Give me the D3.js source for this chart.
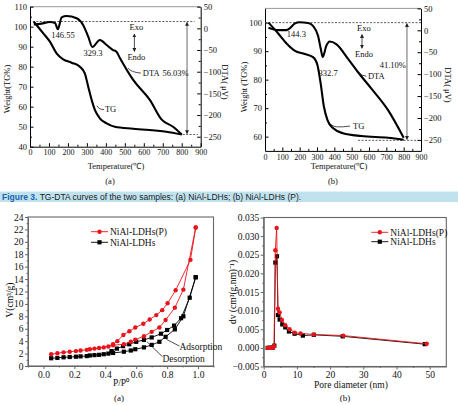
<!DOCTYPE html>
<html>
<head>
<meta charset="utf-8">
<script src="https://cdn.jsdelivr.net/npm/d3@7"></script>
<style>
  body { margin: 0; background: #fff; }
  svg { display: block; }
</style>
</head>
<body>
<svg id="fig"></svg>
<script>
// ---- TG-DTA (a) NiAl-LDHs ----
const tgA_T  = [20, 70, 105, 140, 175, 219, 263, 289, 307, 325, 342, 368, 404, 447, 544, 719, 800];
const tgA_W  = [102.5, 96.7, 92.5, 86.7, 83.7, 82, 80, 76.7, 70, 63.4, 58.4, 54.2, 51.7, 50, 49, 47.5, 46.1];
const dtaA_T = [20, 60, 105, 132, 147, 167, 193, 246, 280, 307, 329, 368, 404, 438, 456, 474, 544, 632, 693, 754, 800];
const dtaA_V = [9, 11, 14.7, 12.4, -2, 25.5, 28.5, 23.2, 7.8, -19.2, -43, -26.8, -38.4, -50, -54, -68.4, -119, -165, -210, -227, -245];

// ---- TG-DTA (b) NiAl-LDHs (P) ----
const tgB_T  = [20, 75, 123, 171, 229, 277, 302, 321, 340, 360, 392, 450, 556, 710, 800];
const tgB_W  = [100, 96.3, 92.8, 90.2, 89, 87.9, 85.2, 78.7, 70.5, 65.9, 63, 61.2, 60.2, 59.6, 58.9];
const dtaB_T = [20, 75, 123, 144, 171, 200, 248, 277, 306, 322, 333, 354, 373, 411, 479, 537, 614, 710, 800];
const dtaB_V = [6, 0.5, 0.5, 5, 15.2, 18.3, 16.8, 10, -12.6, -42.7, -61, -35, -25.5, -31.4, -65, -95.6, -133, -182, -245];

const tempTicks = [0, 100, 200, 300, 400, 500, 600, 700, 800, 900];
const dtaTicks  = [50, 0, -50, -100, -150, -200, -250];

// ---- N2 isotherms ----
const adsP   = [0.05, 0.09, 0.13, 0.17, 0.21, 0.24, 0.28, 0.30, 0.33, 0.36, 0.39, 0.42, 0.45, 0.52, 0.565, 0.594, 0.65, 0.70, 0.75, 0.79, 0.85, 0.905, 0.985];
const adsV_P = [1.9, 2.05, 2.2, 2.3, 2.4, 2.5, 2.6, 2.7, 2.8, 2.9, 3.0, 3.15, 3.35, 3.5, 3.9, 4.25, 4.8, 5.5, 6.2, 7.4, 9.4, 12.3, 22.3];
const adsV   = [1.25, 1.3, 1.4, 1.45, 1.5, 1.55, 1.6, 1.7, 1.75, 1.8, 1.9, 2.0, 2.1, 2.3, 2.5, 2.7, 3.0, 3.4, 3.9, 4.7, 5.9, 8.0, 14.3];
const desP_P = [0.985, 0.951, 0.855, 0.803, 0.768, 0.73, 0.687, 0.646, 0.594, 0.556, 0.517, 0.478, 0.45];
const desV_P = [22.3, 17.1, 12.2, 10.1, 9.0, 8.2, 7.5, 6.8, 6.2, 5.6, 5.0, 4.0, 3.5];
const desP   = [0.985, 0.946, 0.89, 0.845, 0.80, 0.76, 0.70, 0.65, 0.60, 0.555, 0.515, 0.475, 0.44];
const desV   = [14.3, 11.0, 7.7, 6.5, 5.8, 5.2, 4.6, 4.2, 3.9, 3.5, 3.2, 2.8, 2.4];

// ---- pore size distribution ----
const poreD_P  = [1.2, 1.6, 2.0, 2.4, 2.8, 3.1, 3.5, 3.9, 4.3, 4.8, 5.5, 6.5, 7.8, 9.3, 11.1, 15.1, 24.0, 49.1];
const poreDv_P = [0, 0, 0, 0, 0.0001, 0.0005, 0.0262, 0.0322, 0.0105, 0.0095, 0.0075, 0.0061, 0.005, 0.0041, 0.0039, 0.0036, 0.0033, 0.0011];
const poreD    = [1.2, 1.6, 2.0, 2.4, 2.8, 3.2, 3.5, 4.0, 4.3, 4.8, 5.6, 6.5, 7.6, 9.3, 11.8, 15.1, 23.8, 48.5];
const poreDv   = [0, 0, 0, 0, 0.0001, 0.0006, 0.0229, 0.0246, 0.0088, 0.0076, 0.0063, 0.0055, 0.0044, 0.0038, 0.0033, 0.0035, 0.0031, 0.0010];

const SERIF = '"Liberation Serif","Times New Roman",serif';
const RED = '#e8141b';

const svg = d3.select('#fig').attr('width', 458).attr('height', 405);
svg.append('rect').attr('width', 458).attr('height', 405).attr('fill', '#fff');

const defs = svg.append('defs');
defs.append('marker').attr('id', 'ah').attr('viewBox', '0 0 6 6').attr('refX', 5).attr('refY', 3)
    .attr('markerWidth', 5).attr('markerHeight', 5).attr('orient', 'auto-start-reverse')
    .append('path').attr('d', 'M0,0 L6,3 L0,6 z').attr('fill', '#222');

function addAxis(g, axis, tx, ty, fs, color) {
    const a = g.append('g').attr('transform', `translate(${tx},${ty})`).call(axis);
    a.attr('font-family', SERIF).attr('font-size', fs);
    a.select('.domain').attr('stroke', color);
    a.selectAll('.tick line').attr('stroke', color);
    a.selectAll('.tick text').attr('fill', '#111');
    return a;
}
function minorAxis(g, axis, tx, ty, color) {
    const a = g.append('g').attr('transform', `translate(${tx},${ty})`).call(axis.tickFormat(''));
    a.select('.domain').remove();
    a.selectAll('.tick line').attr('stroke', color);
}
function label(g, x, y, txt, fs, anchor) {
    return g.append('text').attr('x', x).attr('y', y).attr('font-family', SERIF)
        .attr('font-size', fs).attr('text-anchor', anchor || 'start').attr('fill', '#111').text(txt);
}

// ================= TG-DTA panels =================
function tgPanel(o) {
    const g = svg.append('g');
    const x  = d3.scaleLinear([0, 900], [o.left, o.right]);
    const yw = d3.scaleLinear(o.wDomain, [o.bottom, o.top]);
    const yd = d3.scaleLinear(o.dDomain, [o.bottom, o.top]);

    g.append('line').attr('x1', o.left).attr('x2', o.right).attr('y1', o.top).attr('y2', o.top)
        .attr('stroke', '#999');

    addAxis(g, d3.axisBottom(x).tickValues(tempTicks).tickSize(-3.5).tickPadding(3).tickSizeOuter(0), 0, o.bottom, 8, '#000');
    minorAxis(g, d3.axisBottom(x).tickValues(d3.range(50, 900, 100)).tickSize(-2), 0, o.bottom, '#000');
    addAxis(g, d3.axisLeft(yw).tickValues(o.wTicks).tickSize(-3.5).tickPadding(3).tickSizeOuter(0), o.left, 0, 8.5, '#000');
    minorAxis(g, d3.axisLeft(yw).tickValues(o.wMinor).tickSize(-2), o.left, 0, '#000');
    addAxis(g, d3.axisRight(yd).tickValues(dtaTicks).tickSize(-3.5).tickPadding(3).tickSizeOuter(0), o.right, 0, 8.5, '#000');
    minorAxis(g, d3.axisRight(yd).tickValues(d3.range(-225, 50, 50)).tickSize(-2), o.right, 0, '#000');

    // reference lines and mass loss arrow
    const dash = (x1, x2, w) => g.append('line').attr('x1', x(x1)).attr('x2', x(x2))
        .attr('y1', yw(w)).attr('y2', yw(w)).attr('stroke', '#333').attr('stroke-width', 0.8)
        .attr('stroke-dasharray', '2,1.5');
    dash(o.dashTop[0], o.dashTop[1], o.wStart);
    dash(o.dashBot[0], o.dashBot[1], o.wEnd);
    g.append('line').attr('x1', x(o.arrowT)).attr('x2', x(o.arrowT))
        .attr('y1', yw(o.wStart) + 1).attr('y2', yw(o.wEnd) - 1)
        .attr('stroke', '#444').attr('stroke-width', 0.8)
        .attr('marker-start', 'url(#ah)').attr('marker-end', 'url(#ah)');

    const line = (xs, ys, sc) => d3.line().x(d => x(d[0])).y(d => sc(d[1])).curve(d3.curveMonotoneX)(d3.zip(xs, ys));
    g.append('path').attr('d', line(o.tgT, o.tgW, yw)).attr('fill', 'none').attr('stroke', '#000').attr('stroke-width', 2.1);
    g.append('path').attr('d', line(o.dtaT, o.dtaV, yd)).attr('fill', 'none').attr('stroke', '#000').attr('stroke-width', 2.1);

    // Exo / Endo
    label(g, x(o.exoT), yw(o.exoW), 'Exo', 8.5, 'middle');
    label(g, x(o.exoT), yw(o.endoW), 'Endo', 8.5, 'middle');
    g.append('line').attr('x1', x(o.exoT) - 2).attr('x2', x(o.exoT) - 2)
        .attr('y1', yw(o.exoW) + 4).attr('y2', yw(o.endoW) - 9)
        .attr('stroke', '#222').attr('stroke-width', 0.8)
        .attr('marker-start', 'url(#ah)').attr('marker-end', 'url(#ah)');

    o.notes.forEach(n => label(g, x(n[0]), yw(n[1]), n[2], 8.5, n[3]));
    o.leaders.forEach(l => {
        const p = d3.path();
        p.moveTo(x(l[0]), yw(l[1]));
        p.quadraticCurveTo(x(l[0]) + 2, yw(l[1]) + 4, x(l[2]), yw(l[3]));
        g.append('path').attr('d', p.toString()).attr('fill', 'none').attr('stroke', '#222').attr('stroke-width', 0.8);
    });

    label(g, o.xTitle[0], o.xTitle[1], 'Temperature(℃)', 8.5, 'middle');
    label(g, o.xTitle[0] - 6, o.xTitle[1] + 15, o.tag, 8.5, 'middle');
    g.append('text').attr('transform', `translate(${o.wTitle[0]},${o.wTitle[1]}) rotate(-90)`)
        .attr('font-family', SERIF).attr('font-size', 8.5).attr('text-anchor', 'middle').text(o.wLabel);
    g.append('text').attr('transform', `translate(${o.dTitle[0]},${o.dTitle[1]}) rotate(90)`)
        .attr('font-family', SERIF).attr('font-size', 8.5).attr('text-anchor', 'middle').text('DTA( μV)');
}

tgPanel({
    left: 30, right: 200.7, top: 6.7, bottom: 146.7,
    wDomain: [40, 110], dDomain: [-273, 50],
    wTicks: [40, 50, 60, 70, 80, 90, 100, 110], wMinor: d3.range(45, 110, 10),
    tgT: tgA_T, tgW: tgA_W, dtaT: dtaA_T, dtaV: dtaA_V,
    wStart: 102.6, wEnd: 46.1, dashTop: [15, 868], dashBot: [805, 885], arrowT: 828,
    exoT: 561, exoW: 98.3, endoW: 83.2,
    notes: [[174, 94.3, '146.55', 'middle'], [332, 85.5, '329.3', 'middle'],
            [595, 75.5, 'DTA', 'start'], [698, 75.5, '56.03%', 'start'], [395, 57.5, 'TG', 'start']],
    leaders: [[518, 79.3, 585, 76.8], [353, 60.5, 390, 58.6]],
    xTitle: [116, 169], tag: '(a)', wLabel: 'Weight(TG%)', wTitle: [10, 89], dTitle: [222, 82]
});

tgPanel({
    left: 265, right: 421, top: 8.4, bottom: 150.9,
    wDomain: [55, 105], dDomain: [-275, 50],
    wTicks: [60, 70, 80, 90, 100], wMinor: d3.range(65, 105, 10),
    tgT: tgB_T, tgW: tgB_W, dtaT: dtaB_T, dtaV: dtaB_V,
    wStart: 100, wEnd: 58.7, dashTop: [0, 900], dashBot: [537, 900], arrowT: 819,
    exoT: 571, exoW: 97.2, endoW: 87.9,
    notes: [[181, 94.9, '144.3', 'middle'], [364, 81.2, '332.7', 'middle'],
            [594, 80.3, 'DTA', 'start'], [737, 84, '41.10%', 'middle'], [508, 62.8, 'TG', 'start']],
    leaders: [[540, 82.7, 585, 81.2], [382, 64.3, 490, 63.7]],
    xTitle: [339, 169], tag: '(b)', wLabel: 'Weight (TG%)', wTitle: [247, 87], dTitle: [445, 85]
});

// ================= caption =================
svg.append('rect').attr('x', 0).attr('y', 191.5).attr('width', 458).attr('height', 10.5).attr('fill', '#bfe2ee');
const cap = svg.append('text').attr('x', 2).attr('y', 199.8)
    .attr('font-family', '"Liberation Sans",Arial,sans-serif').attr('font-size', 8.5);
cap.append('tspan').attr('fill', '#1d62ad').attr('font-weight', 'bold').text('Figure 3.');
cap.append('tspan').attr('fill', '#1a1a1a').text(' TG-DTA curves of the two samples: (a) NiAl-LDHs; (b) NiAl-LDHs (P).');

// ================= bottom panels =================
function frame(g, x0, x1, y0, y1) {
    g.append('rect').attr('x', x0).attr('y', y0).attr('width', x1 - x0).attr('height', y1 - y0)
        .attr('fill', 'none').attr('stroke', '#666').attr('stroke-width', 1.1);
}
function legend(g, x0, y, color, shape, txt) {
    g.append('line').attr('x1', x0).attr('x2', x0 + 17).attr('y1', y).attr('y2', y).attr('stroke', color).attr('stroke-width', 0.9);
    marker(g, x0 + 8.5, y, color, shape);
    label(g, x0 + 19, y + 3.2, txt, 9.5);
}
function marker(g, cx, cy, color, shape) {
    if (shape === 'circle') g.append('circle').attr('cx', cx).attr('cy', cy).attr('r', 2.2).attr('fill', color);
    else g.append('rect').attr('x', cx - 2.1).attr('y', cy - 2.1).attr('width', 4.2).attr('height', 4.2).attr('fill', color);
}
function series(g, x, y, xs, ys, color, shape) {
    const pts = d3.zip(xs, ys);
    g.append('path').attr('d', d3.line().x(d => x(d[0])).y(d => y(d[1]))(pts))
        .attr('fill', 'none').attr('stroke', color).attr('stroke-width', 0.9);
    pts.forEach(d => marker(g, x(d[0]), y(d[1]), color, shape));
}

// (a) isotherms
{
    const g = svg.append('g');
    const x = d3.scaleLinear([-0.1, 1.1], [28, 213.5]);
    const y = d3.scaleLinear([0, 24], [366, 217]);
    frame(g, 28, 213.5, 217, 366);
    addAxis(g, d3.axisBottom(x).tickValues([0, 0.2, 0.4, 0.6, 0.8, 1.0]).tickFormat(d3.format('.1f')).tickSize(3).tickPadding(2).tickSizeOuter(0), 0, 366, 9.5, '#666');
    minorAxis(g, d3.axisBottom(x).tickValues([-0.1, 0.1, 0.3, 0.5, 0.7, 0.9, 1.1]).tickSize(1.5), 0, 366, '#666');
    addAxis(g, d3.axisLeft(y).tickValues(d3.range(0, 25, 2)).tickSize(3).tickPadding(1.5).tickSizeOuter(0), 28, 0, 9.5, '#666');
    minorAxis(g, d3.axisLeft(y).tickValues(d3.range(1, 24, 2)).tickSize(1.5), 28, 0, '#666');

    series(g, x, y, adsP, adsV, '#000', 'square');
    series(g, x, y, desP, desV, '#000', 'square');
    series(g, x, y, adsP, adsV_P, RED, 'circle');
    series(g, x, y, desP_P, desV_P, RED, 'circle');

    legend(g, 91, 231.7, RED, 'circle', 'NiAl-LDHs(P)');
    legend(g, 91, 242.3, '#000', 'square', 'NiAl-LDHs');

    g.append('line').attr('x1', x(0.795)).attr('y1', y(4.3)).attr('x2', x(0.88)).attr('y2', y(3.2)).attr('stroke', '#222').attr('stroke-width', 0.8);
    label(g, x(0.88), y(2.5), 'Adsorption', 9.5);
    g.append('line').attr('x1', x(0.67)).attr('y1', y(3.9)).attr('x2', x(0.77)).attr('y2', y(1.5)).attr('stroke', '#222').attr('stroke-width', 0.8);
    label(g, x(0.77), y(0.7), 'Desorption', 9.5);

    label(g, 121, 386, 'P/P⁰', 9.5, 'middle');
    label(g, 119, 401, '(a)', 9, 'middle');
    g.append('text').attr('transform', 'translate(13,300) rotate(-90)')
        .attr('font-family', SERIF).attr('font-size', 9.5).attr('text-anchor', 'middle').text('V(cm³/g)');
}

// (b) pore size distribution
{
    const g = svg.append('g');
    const x = d3.scaleLinear([0, 55], [263.7, 446.3]);
    const y = d3.scaleLinear([-0.005, 0.035], [366.5, 217.5]);
    frame(g, 263.7, 446.3, 217.5, 366.5);
    addAxis(g, d3.axisBottom(x).tickValues([0, 10, 20, 30, 40, 50]).tickSize(3).tickPadding(2).tickSizeOuter(0), 0, 366.5, 9.5, '#666');
    minorAxis(g, d3.axisBottom(x).tickValues([5, 15, 25, 35, 45]).tickSize(1.5), 0, 366.5, '#666');
    addAxis(g, d3.axisLeft(y).tickValues(d3.range(-0.005, 0.0351, 0.005)).tickFormat(d3.format('.3f')).tickSize(3).tickPadding(1.5).tickSizeOuter(0), 263.7, 0, 9.5, '#666');
    minorAxis(g, d3.axisLeft(y).tickValues(d3.range(-0.0025, 0.035, 0.005)).tickSize(1.5), 263.7, 0, '#666');

    series(g, x, y, poreD, poreDv, '#000', 'square');
    series(g, x, y, poreD_P, poreDv_P, RED, 'circle');

    legend(g, 371.3, 232.3, RED, 'circle', 'NiAl-LDHs(P)');
    legend(g, 371.3, 241.7, '#000', 'square', 'NiAl-LDHs');

    label(g, 351, 388, 'Pore diameter (nm)', 9.5, 'middle');
    label(g, 345, 401, '(b)', 9, 'middle');
    g.append('text').attr('transform', 'translate(236,292) rotate(-90)')
        .attr('font-family', SERIF).attr('font-size', 9.5).attr('text-anchor', 'middle').text('dv (cm³(g.nm)⁻¹)');
}
</script>
</body>
</html>
